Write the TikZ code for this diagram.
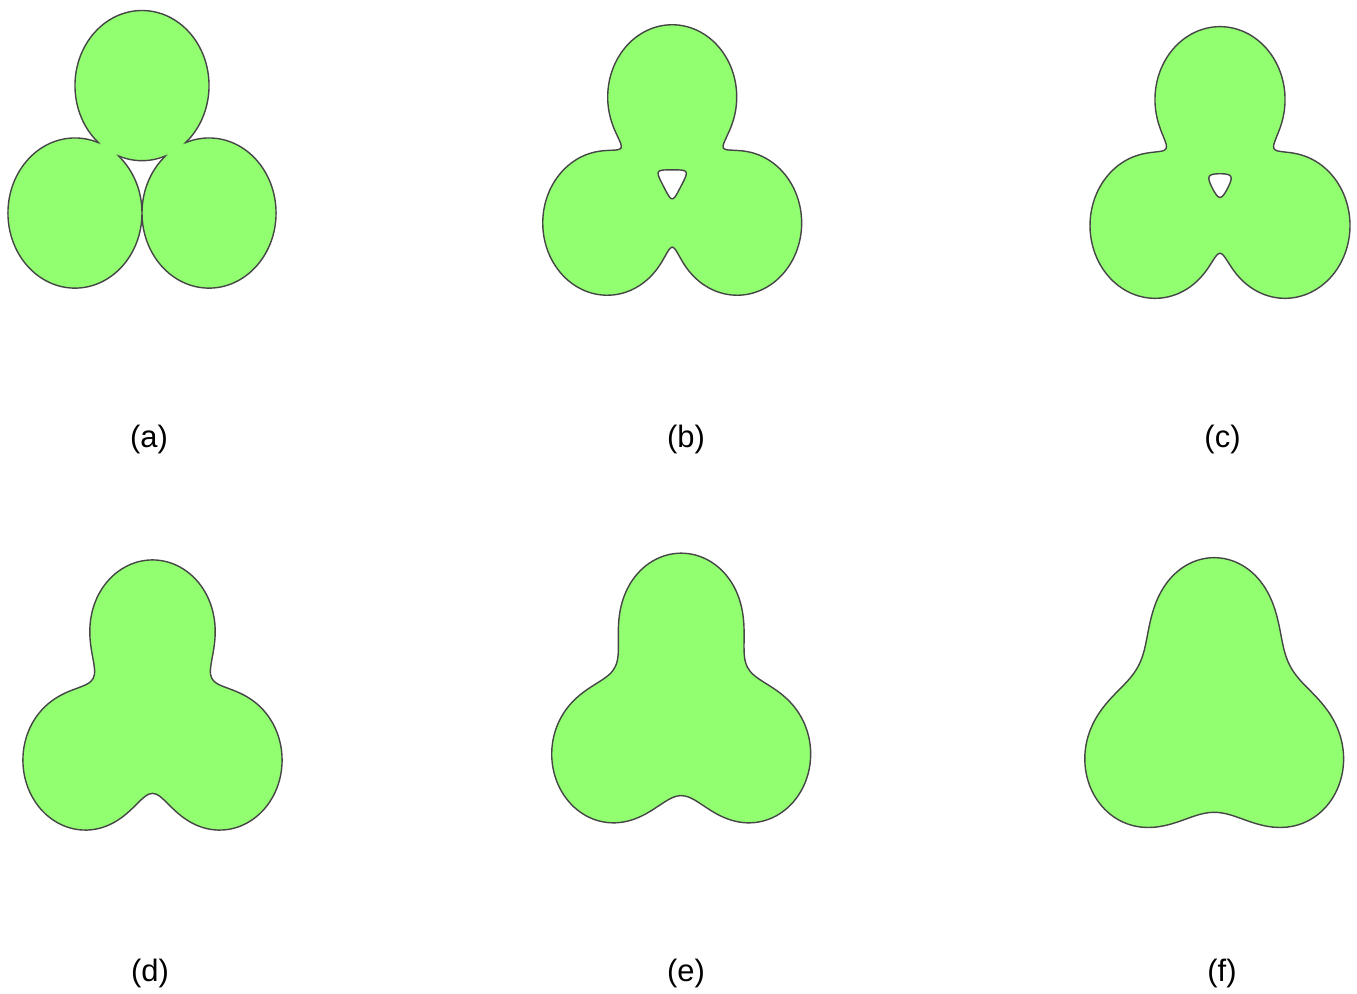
\documentclass[tikz,border=0pt]{standalone}
\usepackage{fontspec}
\setmainfont{Liberation Sans}

\definecolor{lobefill}{RGB}{145,255,112}
\definecolor{lobeline}{RGB}{70,70,70}

\newcount\bisecn
% sum of three gaussian charges at radius #1, angle \ang (level 1 is the rim)
\newcommand\blobval[1]{%
  \pgfmathparse{exp(max(-9,\LL-\uu*((#1)*(#1)+1-2*(#1)*cos(\ang-90))))+exp(max(-9,\LL-\uu*((#1)*(#1)+1-2*(#1)*cos(\ang-210))))+exp(max(-9,\LL-\uu*((#1)*(#1)+1-2*(#1)*cos(\ang-330))))}}
% bisection along the ray \ang between a radius inside (#2) and one outside (#3)
\newcommand\findr[3]{%
  \def\ang{#1}\edef\rin{#2}\edef\rout{#3}%
  \bisecn=0
  \loop
    \pgfmathsetmacro\rmid{(\rin+\rout)/2}%
    \blobval{\rmid}%
    \ifdim\pgfmathresult pt>1pt \let\rin\rmid \else \let\rout\rmid \fi
    \advance\bisecn by 1
  \ifnum\bisecn<13 \repeat
  \pgfmathsetmacro\rr{(\rin+\rout)/2}}
\newcommand\levelpath[2]{%
  \gdef\pts{}%
  \foreach \t in {0,3,...,357}{%
    \findr{\t}{#1}{#2}%
    \xdef\pts{\pts (\t:\rr)}}}

\begin{document}
\begin{tikzpicture}[
    lobe/.style={fill=lobefill,draw=lobeline,line width=0.4pt,even odd rule},
    caption/.style={font=\fontsize{8.8}{10.5}\selectfont,inner sep=0pt}]
  \useasboundingbox (0,0) rectangle (13.57,-9.94);
  % (a) three discs
  \begin{scope}[shift={(1.42,-1.697)},xscale=0.774,yscale=0.867]
    \coordinate (t) at (0,0.97);
    \coordinate (l) at (210:1);
    \coordinate (r) at (330:1);
    \fill[lobefill] (t) circle (0.866) (l) circle (0.866) (r) circle (0.866);
    \foreach \i/\j/\k in {t/l/r,l/r/t,r/t/l}{
      \begin{scope}[even odd rule]
        \clip (-2.5,-2.5) rectangle (2.5,2.5) (\j) circle (0.866);
        \clip (-2.5,-2.5) rectangle (2.5,2.5) (\k) circle (0.866);
        \draw[lobeline,line width=0.4pt] (\i) circle (0.866);
      \end{scope}}
  \end{scope}
  % (b), (c) with a hole
  \foreach \x/\y/\sz/\uu/\LL in {6.722/-1.81/0.75/7.5/5.55,12.20/-1.835/0.75/6.5/4.89}{
    \levelpath{0.5}{2.2}\let\rimpts\pts
    \levelpath{0.5}{0}\let\holepts\pts
    \begin{scope}[shift={(\x,\y)},xscale=\sz,yscale=1.12*\sz]
      \edef\lobepath{\noexpand\draw[lobe] plot[smooth cycle] coordinates {\rimpts}
        plot[smooth cycle] coordinates {\holepts};}\lobepath
    \end{scope}}
  % (d), (e), (f)
  \foreach \x/\y/\sz/\uu/\LL in {1.525/-7.167/0.775/2.81/1.827,6.812/-7.10/0.787/1.904/1.156,12.142/-7.145/0.80/1.3/0.73}{
    \levelpath{0.5}{2.2}\let\rimpts\pts
    \begin{scope}[shift={(\x,\y)},xscale=\sz,yscale=1.12*\sz]
      \edef\lobepath{\noexpand\draw[lobe] plot[smooth cycle] coordinates {\rimpts};}\lobepath
    \end{scope}}
  \foreach \n/\x/\y in {a/1.49/-4.395,b/6.86/-4.395,c/12.225/-4.395,d/1.50/-9.73,e/6.86/-9.73,f/12.22/-9.73}
    \node[caption] (lab\n) at (\x,\y) {(\n)};
\end{tikzpicture}
\end{document}
